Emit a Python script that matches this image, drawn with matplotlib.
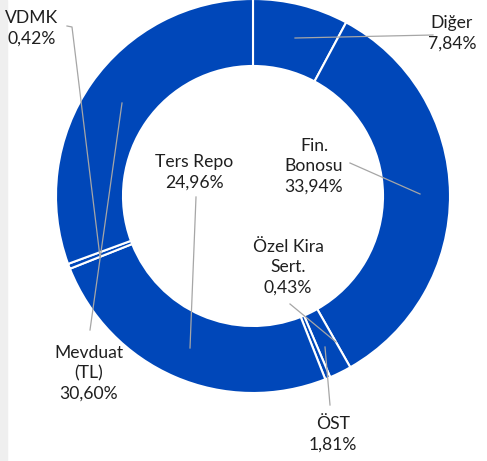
import matplotlib.pyplot as plt
from matplotlib.patches import Rectangle

# slice order clockwise from 12 o'clock
labels = ["Diğer", "Fin.\nBonosu", "ÖST", "Özel Kira\nSert.", "Ters Repo", "VDMK", "Mevduat\n(TL)"]
values = [7.84, 33.94, 1.81, 0.43, 24.96, 0.42, 30.60]
pct_text = ["7,84%", "33,94%", "1,81%", "0,43%", "24,96%", "0,42%", "30,60%"]

# label text centre and leader line (pixel coords, y measured from top)
label_pos = [(452, 33), (314, 166), (333, 434), (288, 267), (194, 172), (32, 28), (89, 373)]
leaders = [
    [(433, 35), (295, 38)],
    [(350, 163), (420, 194)],
    [(330, 405), (325, 347)],
    [(290, 304), (336, 342)],
    [(196, 197), (190, 348)],
    [(67, 26), (72, 27), (100, 257)],
    [(90, 330), (122, 103)],
]

W, H = 487, 461
fig = plt.figure(figsize=(W / 100, H / 100), dpi=100)
ax = fig.add_axes([0, 0, 1, 1])

blue = "#0047B9"
cx, cy, R = 253, 196, 197
ax.pie(values, startangle=90, counterclock=False, colors=[blue] * len(values),
       center=(cx, H - cy), radius=R, frame=True,
       wedgeprops=dict(width=R * 0.34, edgecolor="white", linewidth=1.5))

for pts in leaders:
    xs = [p[0] for p in pts]
    ys = [H - p[1] for p in pts]
    ax.plot(xs, ys, color="#A6A6A6", lw=0.9, zorder=3)

for lab, pct, (x, y) in zip(labels, pct_text, label_pos):
    ax.text(x, H - y, lab + "\n" + pct, ha="center", va="center",
            fontsize=12.6, family="Lato", color="#1F1F1F", linespacing=1.33, zorder=4)

ax.set_xlim(0, W)
ax.set_ylim(0, H)
ax.set_aspect("equal")
ax.axis("off")

fig.patches.append(Rectangle((0, 0), 7 / W, 1, transform=fig.transFigure,
                             color="#EFEFEF", zorder=-1))

fig.savefig("out.png", dpi=100)
